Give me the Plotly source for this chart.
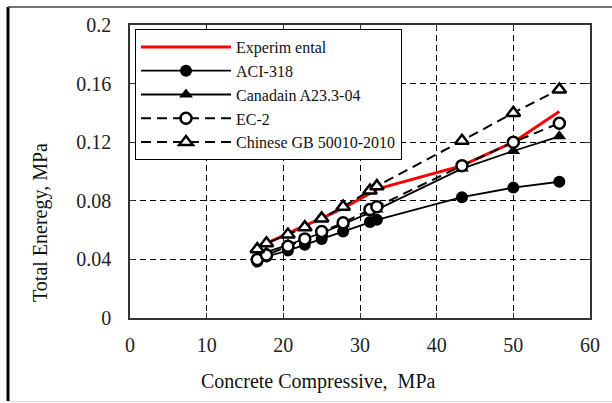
import plotly.graph_objects as go

fc = [16.6, 17.8, 20.6, 22.8, 25.0, 27.8, 31.3, 32.2, 43.3, 50.0, 56.0]
experimental = [0.048, 0.051, 0.058, 0.063, 0.068, 0.075, 0.085, 0.088, 0.104, 0.120, 0.141]
aci318 = [0.0385, 0.042, 0.046, 0.050, 0.054, 0.059, 0.0655, 0.067, 0.0825, 0.089, 0.093]
canadian = [0.042, 0.045, 0.050, 0.054, 0.058, 0.064, 0.072, 0.074, 0.102, 0.114, 0.124]
ec2 = [0.040, 0.043, 0.049, 0.054, 0.059, 0.065, 0.074, 0.076, 0.104, 0.120, 0.133]
chinese = [0.047, 0.051, 0.057, 0.062, 0.068, 0.076, 0.087, 0.090, 0.121, 0.140, 0.156]

x_ticks = [0, 10, 20, 30, 40, 50, 60]
y_ticks = [0, 0.04, 0.08, 0.12, 0.16, 0.2]
y_tick_text = ["0", "0.04", "0.08", "0.12", "0.16", "0.2"]

FONT = "Liberation Serif"
W, H = 612, 403
ml, mr, mt, mb = 130, 22, 25, 85
pw, ph = W - ml - mr, H - mt - mb

def px_x(p):
    return (p - ml) / pw

def px_y(p):
    return (H - mb - p) / ph

fig = go.Figure()
fig.add_trace(go.Scatter(x=fc, y=experimental, name="Experim ental", mode="lines",
                         line=dict(color="#ff0000", width=3)))
fig.add_trace(go.Scatter(x=fc, y=aci318, name="ACI-318", mode="lines+markers",
                         line=dict(color="black", width=1.8),
                         marker=dict(symbol="circle", size=12, color="black")))
fig.add_trace(go.Scatter(x=fc, y=canadian, name="Canadain A23.3-04", mode="lines+markers",
                         line=dict(color="black", width=1.8),
                         marker=dict(symbol="triangle-up", size=12, color="black")))
fig.add_trace(go.Scatter(x=fc, y=ec2, name="EC-2", mode="lines+markers",
                         line=dict(color="black", width=2, dash="10px,6px"),
                         marker=dict(symbol="circle", size=11, color="white",
                                     line=dict(color="black", width=2.5))))
fig.add_trace(go.Scatter(x=fc, y=chinese, name="Chinese GB 50010-2010", mode="lines+markers",
                         line=dict(color="black", width=2, dash="10px,6px"),
                         marker=dict(symbol="triangle-up", size=12, color="white",
                                     line=dict(color="black", width=2.5))))

axis_common = dict(
    showline=True, linecolor="#333", linewidth=1.5, mirror="ticks",
    ticks="inside", ticklen=5, tickcolor="#333", tickwidth=1,
    showgrid=True, gridcolor="black", gridwidth=1, griddash="6px,4px",
    zeroline=False,
    tickfont=dict(family=FONT, size=20, color="#222"),
)

fig.update_xaxes(range=[0, 60], tickvals=x_ticks, ticktext=[str(v) for v in x_ticks],
                 ticklabelstandoff=8, **axis_common)
fig.update_yaxes(range=[0, 0.2], tickvals=y_ticks, ticktext=y_tick_text,
                 ticklabelstandoff=13, **axis_common)

fig.add_annotation(text="Concrete Compressive,  MPa", xref="paper", yref="paper",
                   x=px_x(318), y=px_y(381), xanchor="center", yanchor="middle",
                   showarrow=False, font=dict(family=FONT, size=20, color="#111"))
fig.add_annotation(text="Total Eneregy, MPa", xref="paper", yref="paper",
                   x=px_x(40), y=px_y(223), xanchor="center", yanchor="middle",
                   showarrow=False, textangle=-90,
                   font=dict(family=FONT, size=20, color="#111"))

# outer frame of the figure
fig.add_shape(type="line", xref="paper", yref="paper", x0=px_x(8), x1=px_x(8),
              y0=px_y(7), y1=px_y(401), line=dict(color="black", width=3))
fig.add_shape(type="line", xref="paper", yref="paper", x0=px_x(8), x1=px_x(613),
              y0=px_y(7), y1=px_y(7), line=dict(color="#444", width=1.5))
fig.add_shape(type="line", xref="paper", yref="paper", x0=px_x(8), x1=px_x(613),
              y0=px_y(401.5), y1=px_y(401.5), line=dict(color="#ddd", width=1))

fig.update_layout(
    width=W, height=H,
    margin=dict(l=ml, r=mr, t=mt, b=mb),
    paper_bgcolor="white", plot_bgcolor="white",
    showlegend=True,
    legend=dict(x=px_x(135), y=px_y(29), xanchor="left", yanchor="top",
                bgcolor="white", bordercolor="black", borderwidth=1,
                font=dict(family=FONT, size=16, color="#111"),
                itemwidth=90, tracegroupgap=0),
)

fig.write_html("out.html")
